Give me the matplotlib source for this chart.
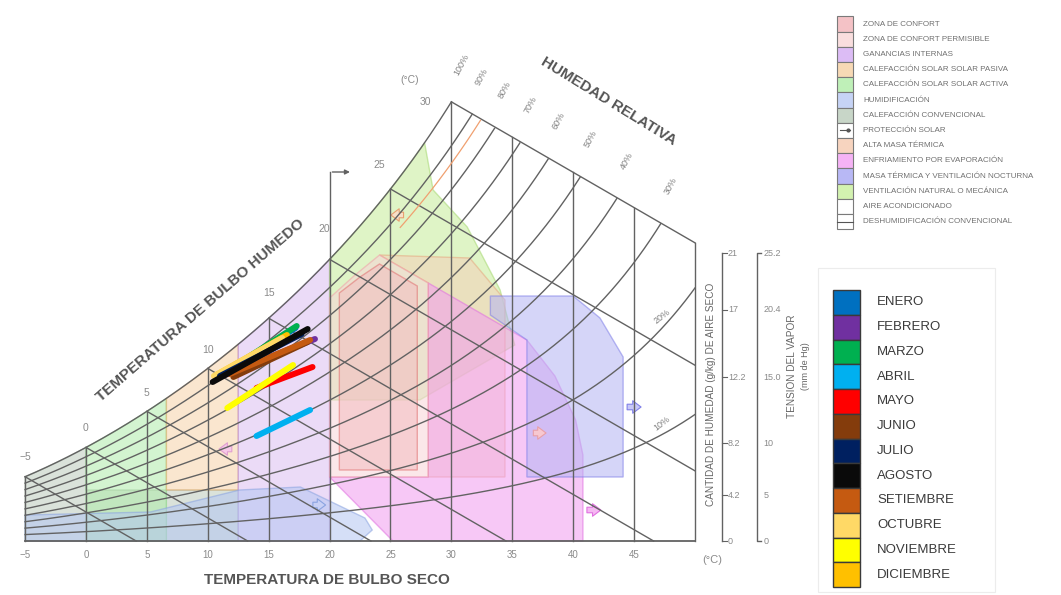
import numpy as np
import matplotlib
matplotlib.use('Agg')
import matplotlib.pyplot as plt
from matplotlib.patches import Polygon, Rectangle

plt.rcParams['font.family'] = ['Liberation Sans', 'DejaVu Sans']

# saturation curve (dry bulb temp, chart height units)
SAT_T = [-5, 0, 5, 10, 15, 20, 25, 30, 50]
SAT_H = [64, 94, 131, 171, 221, 283, 353, 439, 1265]
WB_SLOPE = -7.05          # wet bulb lines, height units per degree
T_LEFT, T_RIGHT = -5, 50

DRY_TICKS = [-5, 0, 5, 10, 15, 20, 25, 30, 35, 40, 45]
WET_BULB = [-5, 0, 5, 10, 15, 20, 25, 30]
RH_LEVELS = [0.1, 0.2, 0.3, 0.4, 0.5, 0.6, 0.7, 0.8, 0.9]
RH_TOP = [1.0, 0.9, 0.8, 0.7, 0.6, 0.5, 0.4, 0.3]
RH_SIDE = [0.2, 0.1]

HUM_TICKS = ['0', '4.2', '8.2', '12.2', '17', '21']
VAP_TICKS = ['0', '5', '10', '15.0', '20.4', '25.2']
TICK_H = [0, 46, 98, 164, 231, 288]

MONTHS = ['ENERO', 'FEBRERO', 'MARZO', 'ABRIL', 'MAYO', 'JUNIO', 'JULIO',
          'AGOSTO', 'SETIEMBRE', 'OCTUBRE', 'NOVIEMBRE', 'DICIEMBRE']
MONTH_COLORS = ['#0070c0', '#7030a0', '#00b050', '#00b0f0', '#ff0000', '#843c0c',
                '#002060', '#0a0a0a', '#c55a11', '#ffd966', '#ffff00', '#ffc000']
T_MIN = [10.8, 11.2, 10.8, 14.0, 14.0, 12.1, 11.0, 10.4, 11.8, 10.5, 11.6, 10.7]
H_TMIN = [163, 165, 164, 105, 153, 164, 165, 159, 167, 165, 133, 166]
T_MAX = [17.2, 18.8, 17.3, 18.4, 18.6, 18.2, 17.7, 18.2, 18.4, 16.1, 17.0, 16.5]
H_TMAX = [213, 202, 215, 131, 174, 199, 207, 212, 201, 203, 176, 206]
DRAW_ORDER = [0, 2, 11, 9, 1, 5, 8, 6, 7, 4, 10, 3]

ZONE_LABELS = ['ZONA DE CONFORT', 'ZONA DE CONFORT PERMISIBLE', 'GANANCIAS INTERNAS',
               'CALEFACCIÓN SOLAR SOLAR PASIVA', 'CALEFACCIÓN SOLAR SOLAR ACTIVA',
               'HUMIDIFICACIÓN', 'CALEFACCIÓN CONVENCIONAL', 'PROTECCIÓN SOLAR',
               'ALTA MASA TÉRMICA', 'ENFRIAMIENTO POR EVAPORACIÓN',
               'MASA TÉRMICA Y VENTILACIÓN NOCTURNA', 'VENTILACIÓN NATURAL O MECÁNICA',
               'AIRE ACONDICIONADO', 'DESHUMIDIFICACIÓN CONVENCIONAL']
ZONE_COLORS = ['#f4c2c6', '#f9dede', '#dcbcf5', '#f7d9b5', '#bff0b8', '#c6d3f5',
               '#c8d6c8', '#ffffff', '#f7d4bf', '#f5b3f5', '#b8b8f5', '#d3f2b0',
               '#ffffff', '#ffffff']

coef = np.polyfit(SAT_T, np.log(SAT_H), 3)


def sat(t):
    return np.exp(np.polyval(coef, t))


def htop(t):
    return sat(30) + WB_SLOPE * (np.asarray(t) - 30)


def sat_path(t0, t1, n=30):
    t = np.linspace(t0, t1, n)
    return list(zip(t, sat(t)))


# zones (dry bulb, chart height)
zones = [
    ('conv', [(-5, 0)] + sat_path(-5, 0) + [(0, 51), (12.5, 51), (12.5, 0)], '#bccbbc', '#98ac98'),
    ('activa', [(0, 0)] + sat_path(0, 6.6) + [(6.6, 0)], '#b0ecaa', '#80d07a'),
    ('pasiva', [(6.6, 51)] + sat_path(6.6, 12.5) + [(12.5, 51)], '#f6d2a8', '#e8b070'),
    ('ganancias', [(12.5, 0)] + sat_path(12.5, 20) + [(20, 0)], '#dcbef2', '#b98ae0'),
    ('humid', [(-5, 0), (-5, 26), (5.3, 29), (12.6, 51), (17.6, 54), (22.9, 23),
               (23.5, 11), (22.5, 0)], '#b3c6f2', '#8aa3e0'),
    ('vent', [(20, 141)] + sat_path(20, 27.8) + [(28.5, 351), (31.3, 314), (34, 251),
                                                 (35.2, 196), (27.4, 141)], '#c6ec98', '#a5d870'),
    ('alta', [(24.1, 286), (31.5, 283), (34.4, 241), (34.4, 64), (28.1, 64), (28.1, 258)],
     '#f4d0b8', '#e6a880'),
    ('evap', [(20, 64), (28.1, 64), (28.1, 258), (36.2, 201), (38.5, 165), (40.2, 121),
              (40.8, 86), (40.8, 0), (25.2, 0)], '#f29cf0', '#e070e0'),
    ('noct', [(33.2, 245), (40, 245), (42.2, 223), (44.1, 184), (44.1, 64), (36.2, 64),
              (36.2, 201), (33.2, 226)], '#b4b4f4', '#8080e8'),
    ('perm', [(20, 64), (20, 243), (22, 265), (24.1, 286), (28.1, 258), (28.1, 64)],
     '#f8d4d8', '#f0a0a8'),
    ('conf', [(20.8, 71), (20.8, 248), (22.5, 264), (24.1, 277), (27.2, 255), (27.2, 71)],
     '#f2bcc0', '#e07070'),
]

fig = plt.figure(figsize=(10.61, 5.95), dpi=100)
ax = fig.add_axes([0, 0, 1, 1])
ax.set_xlim(-7.06, 80.05)
ax.set_ylim(-54, 541)
ax.axis('off')

for i, (name, pts, fc, ec) in enumerate(zones):
    ax.add_patch(Polygon(pts, closed=True, facecolor=fc, edgecolor=ec, alpha=0.55,
                         lw=1.0, zorder=1 + i * 0.01))

# arrows of the zones
for (t, h, dt, fc, ec) in [(44.2, 134, 1.6, '#c8c8f8', '#8080e8'),
                           (40.9, 31, 1.6, '#f5b8f2', '#e070e0'),
                           (36.5, 108, 1.5, '#f7c8d0', '#e8a0a8'),
                           (12.2, 92, -1.5, '#f7c8e8', '#e0a0d0'),
                           (18.4, 36, 1.5, '#c8d0f5', '#8aa3e0'),
                           (26.3, 326, -1.5, '#f8e0c8', '#e8a070')]:
    ax.annotate('', xy=(t + dt, h), xytext=(t, h), zorder=2,
                arrowprops=dict(arrowstyle='simple,head_width=0.9,head_length=0.6,tail_width=0.4',
                                fc=fc, ec=ec, lw=0.8))

gc, gw = '#626262', 1.0
t = np.linspace(T_LEFT, T_RIGHT, 900)
top = np.where(t <= 30, sat(t), htop(t))

# saturation curve and top boundary
ts = np.linspace(-5, 30, 200)
ax.plot(ts, sat(ts), color=gc, lw=gw, zorder=3)
tt = np.linspace(30, T_RIGHT, 20)
ax.plot(tt, htop(tt), color=gc, lw=gw, zorder=3)
ax.plot([T_LEFT, T_RIGHT], [0, 0], color=gc, lw=1.3, zorder=3)
ax.plot([T_RIGHT, T_RIGHT], [0, htop(T_RIGHT)], color=gc, lw=gw, zorder=3)

# dry bulb verticals
for d in DRY_TICKS:
    hh = sat(d) if d <= 30 else htop(d)
    ax.plot([d, d], [0, hh], color=gc, lw=gw, zorder=3)
    ax.text(d, -14, f'{d}'.replace('-', '\u2212'), ha='center', va='center',
            fontsize=7, color='#8a8a8a')

# relative humidity curves
for phi in RH_LEVELS:
    h = phi * sat(t)
    m = h <= top + 1e-9
    ax.plot(t[m], h[m], color=gc, lw=gw, zorder=3)

# wet bulb lines
for w in WET_BULB[:-1]:
    h0 = sat(w)
    t_end = min(w - h0 / WB_SLOPE, T_RIGHT)
    ax.plot([w, t_end], [h0, h0 + WB_SLOPE * (t_end - w)], color=gc, lw=gw, zorder=3)

# orange limit line
to = np.linspace(25.8, 33, 60)
ho = 0.86 * sat(to)
mo = ho <= htop(to) + 1e-9
ax.plot(to[mo], ho[mo], color='#f0a070', lw=0.9, zorder=3)

# arrow above T=20
ax.plot([20, 20], [sat(20), 369], color=gc, lw=gw, zorder=3)
ax.annotate('', xy=(21.9, 369), xytext=(20, 369), zorder=3,
            arrowprops=dict(arrowstyle='-|>', color=gc, lw=gw, mutation_scale=7))

# wet bulb labels
WB_OFFSETS = [(0, 14), (0, 14), (0, 13), (0, 13), (0, 18), (-4, 22), (-8, 17), (-19, 0)]
for w, off in zip(WET_BULB, WB_OFFSETS):
    ax.annotate(f'{w}'.replace('-', '\u2212'), (w, sat(w)), xytext=off,
                textcoords='offset points', ha='center', va='center',
                fontsize=7.5, color='#8a8a8a')
ax.text(26.6, 461, '(°C)', fontsize=7.5, color='#8a8a8a', ha='center', va='center')

# relative humidity labels
tg = np.linspace(30, T_RIGHT, 2001)
for phi in RH_TOP:
    tc = tg[np.argmin(np.abs(phi * sat(tg) - htop(tg)))]
    ax.annotate(f'{int(round(phi * 100))}%', (tc, htop(tc)), xytext=(7, 27),
                textcoords='offset points', ha='center', va='center',
                rotation=62, fontsize=6.5, color='#808080')
for phi in RH_SIDE:
    ax.annotate(f'{int(round(phi * 100))}%', (47.3, phi * sat(47.3)), xytext=(0, 8),
                textcoords='offset points', ha='center', va='center',
                rotation=38, fontsize=6.5, color='#808080')

# axis titles
ax.text(9.36, 231, 'TEMPERATURA DE BULBO HUMEDO', rotation=41, fontsize=11,
        fontweight='bold', color='#555555', ha='center', va='center')
ax.text(42.9, 440, 'HUMEDAD RELATIVA', rotation=-31.5, fontsize=11,
        fontweight='bold', color='#555555', ha='center', va='center')
ax.text(19.8, -39, 'TEMPERATURA DE BULBO SECO', fontsize=11,
        fontweight='bold', color='#555555', ha='center', va='center')
ax.text(51.4, -19, '(°C)', fontsize=8, color='#8a8a8a', ha='center', va='center')

# right scales
x1, x2 = 52.2, 55.1
ax.plot([x1, x1], [0, TICK_H[-1]], color=gc, lw=1.0)
for hk, lab in zip(TICK_H, HUM_TICKS):
    ax.plot([x1, x1 + 0.4], [hk, hk], color=gc, lw=0.8)
    ax.text(x1 + 0.5, hk, lab, fontsize=6.5, color='#8a8a8a', va='center', ha='left')
ax.plot([x2 + 0.3, x2, x2, x2 + 0.3], [0, 0, TICK_H[-1], TICK_H[-1]], color=gc, lw=1.0)
for hk, lab in zip(TICK_H, VAP_TICKS):
    ax.text(x2 + 0.5, hk, lab, fontsize=6.5, color='#8a8a8a', va='center', ha='left')
ax.text(51.35, 147, 'CANTIDAD DE HUMEDAD (g/kg) DE AIRE SECO', rotation=90,
        fontsize=7.2, color='#666666', ha='center', va='center')
ax.text(58.0, 175, 'TENSION DEL VAPOR', rotation=90, fontsize=7.2,
        color='#666666', ha='center', va='center')
ax.text(59.1, 175, '(mm de Hg)', rotation=90, fontsize=6.5,
        color='#666666', ha='center', va='center')

# month lines
for i in DRAW_ORDER:
    ax.plot([T_MIN[i], T_MAX[i]], [H_TMIN[i], H_TMAX[i]], color=MONTH_COLORS[i],
            lw=4.3, solid_capstyle='round', zorder=6)

# legends, in pixel layout
lg = fig.add_axes([0, 0, 1, 1], facecolor='none')
lg.set_xlim(0, 1061)
lg.set_ylim(595, 0)
lg.axis('off')

step = 15.2
for i, (lab, col) in enumerate(zip(ZONE_LABELS, ZONE_COLORS)):
    y = 24 + i * step
    lg.add_patch(Rectangle((837, y - step / 2), 16, step, facecolor=col,
                           edgecolor='#7a7a7a', lw=0.8))
    lg.text(863, y, lab, fontsize=5.8, color='#707070', va='center', ha='left')
    if lab == 'PROTECCIÓN SOLAR':
        lg.plot([840, 850], [y, y], color='#555555', lw=0.8)
        lg.plot([848], [y], marker='o', ms=2, color='#555555')
    if lab == 'DESHUMIDIFICACIÓN CONVENCIONAL':
        lg.plot([837, 853], [y, y], color='#555555', lw=0.8)

lg.add_patch(Rectangle((818, 268), 177, 324, facecolor='none', edgecolor='#ececec', lw=0.8))
mh = 24.75
for i, (lab, col) in enumerate(zip(MONTHS, MONTH_COLORS)):
    y = 290 + i * mh
    lg.add_patch(Rectangle((833, y), 27, mh, facecolor=col, edgecolor='#3a3a3a', lw=1.0))
    lg.text(877, y + mh / 2, lab, fontsize=9.5, color='#3a3a3a', va='center', ha='left')

fig.savefig('out.png', dpi=100)
